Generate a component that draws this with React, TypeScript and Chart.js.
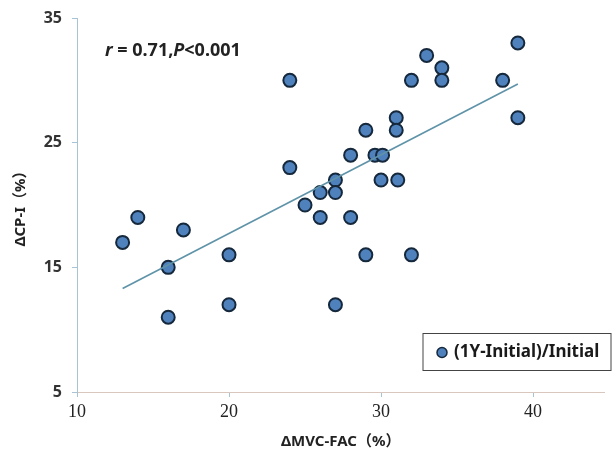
import { useEffect, useRef } from "react";
import { Chart, registerables } from "chart.js";

Chart.register(...registerables);

// Data
const xValues = [13, 14, 17, 16, 16, 20, 20, 24, 24, 25, 26, 26, 27, 27, 27, 28, 28, 29, 29, 29.6, 30.1, 30, 31, 31, 31.1, 32, 32, 33, 34, 34, 38, 39, 39];
const yValues = [17, 19, 18, 15, 11, 16, 12, 30, 23, 20, 21, 19, 22, 21, 12, 24, 19, 26, 16, 24, 24, 22, 27, 26, 22, 30, 16, 32, 31, 30, 30, 33, 27];
const trendX = [13, 39];
const trendY = [13.3, 29.7];
const xTickValues = [10, 20, 30, 40];
const yTickValues = [5, 15, 25, 35];
const seriesLabel = "(1Y-Initial)/Initial";
const xTitle = "ΔMVC-FAC（%）";
const yTitle = "ΔCP-I（%）";
const statParts = [
  { text: "r", italic: true },
  { text: " = 0.71,", italic: false },
  { text: "P", italic: true },
  { text: "<0.001", italic: false },
];

const FILL = "#4F81BD";
const EDGE = "#15283c";
const FONT = "'Noto Sans', 'Noto Sans CJK SC', sans-serif";
const noPadding = () => ({ left: 0, top: 0, right: 0, bottom: 0 });

const overlayPlugin = {
  id: "overlay",
  afterDraw(chart: any) {
    const { ctx, chartArea } = chart;
    ctx.save();
    // statistics annotation
    let x = chartArea.left + 28;
    const y = chartArea.top + 38;
    ctx.fillStyle = "#222";
    ctx.textBaseline = "alphabetic";
    ctx.textAlign = "left";
    for (const p of statParts) {
      ctx.font = `${p.italic ? "italic " : ""}bold 18px ${FONT}`;
      ctx.fillText(p.text, x, y);
      x += ctx.measureText(p.text).width;
    }
    // legend box
    const bx = chartArea.right - 181.5;
    const by = chartArea.bottom - 58.5;
    const bw = 188;
    const bh = 37;
    ctx.fillStyle = "#fff";
    ctx.fillRect(bx, by, bw, bh);
    ctx.strokeStyle = "#444";
    ctx.lineWidth = 1;
    ctx.strokeRect(bx, by, bw, bh);
    ctx.beginPath();
    ctx.arc(bx + 19, by + 19, 5, 0, Math.PI * 2);
    ctx.fillStyle = FILL;
    ctx.fill();
    ctx.lineWidth = 1.5;
    ctx.strokeStyle = EDGE;
    ctx.stroke();
    ctx.fillStyle = "#1a1a1a";
    ctx.font = `bold 17px ${FONT}`;
    ctx.textBaseline = "middle";
    ctx.fillText(seriesLabel, bx + 31, by + 19);
    ctx.restore();
  },
};

export default function App() {
  const ref = useRef<HTMLCanvasElement | null>(null);
  useEffect(() => {
    document.body.style.margin = "0";
    const canvas = ref.current;
    if (!canvas) return;
    const chart = new Chart(canvas, {
      type: "scatter",
      data: {
        datasets: [
          {
            type: "line",
            label: "trend",
            data: trendX.map((x, i) => ({ x, y: trendY[i] })),
            borderColor: "#5f93a8",
            borderWidth: 1.6,
            pointRadius: 0,
            fill: false,
          } as any,
          {
            label: seriesLabel,
            data: xValues.map((x, i) => ({ x, y: yValues[i] })),
            backgroundColor: FILL,
            borderColor: EDGE,
            borderWidth: 2,
            pointRadius: 6.5,
          },
        ],
      },
      options: {
        responsive: false,
        animation: false,
        devicePixelRatio: 1,
        layout: { padding: { top: 18, right: 4, left: 0, bottom: 0 } },
        plugins: { legend: { display: false }, tooltip: { enabled: false } },
        scales: {
          x: {
            type: "linear",
            min: 10,
            max: 44.7,
            afterBuildTicks: (s: any) => {
              s.ticks = xTickValues.map((v) => ({ value: v }));
            },
            afterFit: (s: any) => {
              s.height = 57;
              s.paddingRight = 0;
              s.paddingLeft = 0;
              s.getPadding = noPadding;
            },
            ticks: {
              color: "#222",
              font: { family: "'Liberation Serif', serif", size: 18 },
              padding: 4,
            },
            grid: { display: true, drawOnChartArea: false, drawTicks: true, tickLength: 5, color: "#a8c4d4" },
            border: { display: true, color: "#d9c6bd", width: 1 },
            title: {
              display: true,
              text: xTitle,
              color: "#222",
              font: { family: FONT, size: 15, weight: "bold" },
              padding: { top: 0, bottom: -2 },
            },
          },
          y: {
            type: "linear",
            min: 5,
            max: 35,
            afterBuildTicks: (s: any) => {
              s.ticks = yTickValues.map((v) => ({ value: v }));
            },
            afterFit: (s: any) => {
              s.width = 77;
              s.paddingTop = 0;
              s.paddingBottom = 0;
              s.getPadding = noPadding;
            },
            ticks: {
              color: "#333",
              font: { family: FONT, size: 16, weight: "bold" },
              padding: 10,
            },
            grid: { display: true, drawOnChartArea: false, drawTicks: true, tickLength: 5, color: "#a8c4d4" },
            border: { display: true, color: "#a8c4d4", width: 1 },
            title: {
              display: true,
              text: yTitle,
              color: "#222",
              font: { family: FONT, size: 15, weight: "bold" },
              padding: { top: 12, bottom: 0 },
            },
          },
        },
      },
      plugins: [overlayPlugin],
    });
    return () => chart.destroy();
  }, []);
  return <canvas ref={ref} width={613} height={449} style={{ display: "block", width: 613, height: 449 }} />;
}
